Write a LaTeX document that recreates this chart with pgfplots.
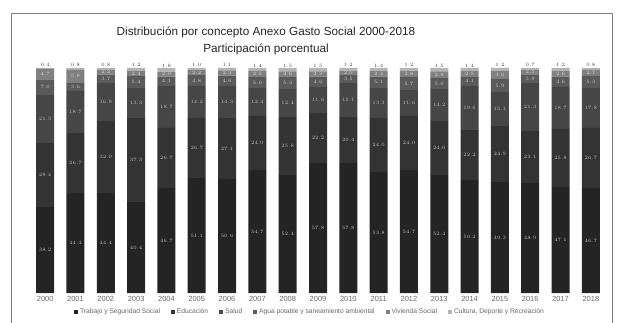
\documentclass[border=0pt]{standalone}
\usepackage{fontspec}
\setmainfont{Liberation Sans}
\usepackage{pgfplots}
\usepackage{pgfplotstable}
\pgfplotsset{compat=1.18}
\definecolor{cT}{HTML}{242424}
\definecolor{cE}{HTML}{333333}
\definecolor{cS}{HTML}{464646}
\definecolor{cA}{HTML}{5A5A5A}
\definecolor{cV}{HTML}{808080}
\definecolor{cC}{HTML}{B4B4B4}
\pgfplotstableread{
x T E S A V C
0 38.2 28.4 21.3 7.0 4.7 0.4
1 44.4 26.7 18.7 3.6 5.8 0.8
2 44.4 32.0 16.9 3.7 2.2 0.8
3 40.4 37.3 13.3 5.4 2.4 1.2
4 46.7 26.7 18.7 4.1 2.0 1.8
5 51.1 26.7 14.2 4.8 2.2 1.0
6 50.6 27.1 14.3 4.6 2.3 1.1
7 54.7 24.0 12.4 5.0 2.5 1.4
8 52.4 25.8 12.4 5.3 2.6 1.5
9 57.8 22.2 11.6 4.6 2.3 1.5
10 57.8 20.4 15.1 3.5 2.0 1.2
11 53.8 24.0 13.3 5.1 2.4 1.4
12 54.7 24.0 11.6 5.7 2.8 1.2
13 52.4 24.0 14.2 5.0 2.9 1.5
14 50.2 22.2 19.6 4.1 2.5 1.4
15 49.3 24.9 15.1 5.9 3.6 1.2
16 48.9 23.1 21.3 3.9 2.1 0.7
17 47.1 25.8 18.7 4.6 2.6 1.2
18 46.7 26.7 17.8 5.3 2.7 0.8
}\datatable
\begin{document}
\begin{tikzpicture}[x=1bp,y=1bp]
\useasboundingbox (0,0) rectangle (622,322);
\draw[color=black!50, line width=0.8bp] (11,-1) rectangle (612,309);
\node[font=\fontsize{11.8}{13}\selectfont, color=black!85] at (266,290) {Distribución por concepto Anexo Gasto Social 2000-2018};
\node[font=\fontsize{11.8}{13}\selectfont, color=black!85] at (266,273) {Participación porcentual};
\begin{axis}[
  at={(30bp,29bp)}, anchor=south west,
  scale only axis, width=576bp, height=225bp,
  ybar stacked, bar width=18bp,
  xmin=-0.5, xmax=18.5, ymin=0, ymax=100,
  axis line style={draw=none},
  ytick=\empty,
  xtick={0,...,18},
  xticklabels={2000,2001,2002,2003,2004,2005,2006,2007,2008,2009,2010,2011,2012,2013,2014,2015,2016,2017,2018},
  major tick length=0pt,
  xticklabel style={font=\fontsize{7.5}{8}\selectfont, color=black!60},
  point meta=rawy,
  nodes near coords={\pgfmathprintnumber[fixed,fixed zerofill,precision=1]{\pgfplotspointmeta}},
  every node near coord/.append style={font=\fontsize{4.5}{5}\selectfont, anchor=center, inner sep=0pt},
  legend style={at={(0.5,0)}, anchor=center, xshift=-8bp, yshift=-19bp, draw=none, fill=none,
    legend columns=-1, font=\fontsize{6.7}{7}\selectfont, text=black!60,
    /tikz/every even column/.append style={column sep=9bp}},
  legend image code/.code={\fill[#1,draw=none] (0bp,-2bp) rectangle (4bp,2bp);},
]
\addplot[fill=cT, draw=none, every node near coord/.append style={text=black!25}] table[x=x,y=T]{\datatable};
\addplot[fill=cE, draw=none, every node near coord/.append style={text=black!25}] table[x=x,y=E]{\datatable};
\addplot[fill=cS, draw=none, every node near coord/.append style={text=black!25}] table[x=x,y=S]{\datatable};
\addplot[fill=cA, draw=none, every node near coord/.append style={text=black!20}] table[x=x,y=A]{\datatable};
\addplot[fill=cV, draw=none, every node near coord/.append style={text=black!15}] table[x=x,y=V]{\datatable};
\addplot[fill=cC, draw=none, every node near coord/.append style={text=black!75, yshift=4bp}] table[x=x,y=C]{\datatable};
\legend{Trabajo y Seguridad Social, Educación, Salud, Agua potable y saneamiento ambiental, Vivienda Social, {Cultura, Deporte y Recreación}}
\end{axis}
\end{tikzpicture}
\end{document}
